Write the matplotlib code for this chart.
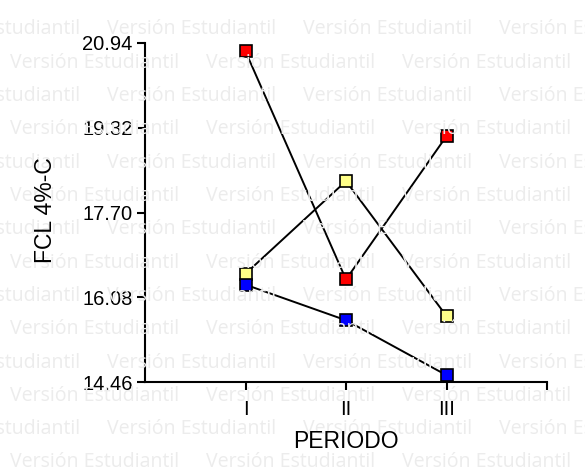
import matplotlib
matplotlib.use("Agg")
import matplotlib.pyplot as plt

categories = ["I", "II", "III"]
red_vals = [20.78, 16.42, 19.16]
yellow_vals = [16.53, 18.30, 15.72]
blue_vals = [16.32, 15.64, 14.59]
yticks = [14.46, 16.08, 17.70, 19.32, 20.94]
ylabel = "FCL 4%-C"
xlabel = "PERIODO"
watermark = "Versión Estudiantil"

W, H = 585, 470
fig = plt.figure(figsize=(W / 100, H / 100), dpi=100)
renderer = fig.canvas.get_renderer()

# fit watermark font size so one phrase is ~170 px wide
probe = fig.text(0, 0, watermark, fontsize=10, family="Open Sans")
w10 = probe.get_window_extent(renderer).width
probe.remove()
wm_size = 10 * 170 / w10

for r in range(15):
    y = 27 + r * 33.3
    x0 = 107 - 196 if r % 2 == 0 else 10
    for k in range(5):
        x = x0 + k * 196
        fig.text(x / W, 1 - y / H, watermark, fontsize=wm_size, color="#ececec",
                 family="Open Sans", va="center_baseline", ha="left", zorder=0)

ax = fig.add_axes([145 / W, 1 - 382 / H, (547 - 145) / W, (382 - 43) / H])
ax.patch.set_alpha(0)
xs = [1, 2, 3]
for vals, col in [(red_vals, "#ff0000"), (yellow_vals, "#ffff88"), (blue_vals, "#0000ff")]:
    ax.plot(xs, vals, color="black", lw=1.4, marker="s", markersize=8,
            markerfacecolor=col, markeredgecolor="black", markeredgewidth=1.2,
            clip_on=False, zorder=3)

ax.set_xlim(0, 4)
ax.set_ylim(yticks[0], yticks[-1])
ax.set_yticks(yticks)
ax.set_yticklabels([f"{v:.2f}" for v in yticks])
ax.set_xticks([1, 2, 3, 4])
ax.set_xticklabels(categories + [""])
for s in ["top", "right"]:
    ax.spines[s].set_visible(False)
for s in ["left", "bottom"]:
    ax.spines[s].set_linewidth(1.5)
ax.tick_params(axis="both", direction="out", length=6, width=1.5, labelsize=14.5)
ax.tick_params(axis="y", pad=3)
ax.tick_params(axis="x", pad=7)
for lbl in ax.get_xticklabels() + ax.get_yticklabels():
    lbl.set_family("Liberation Sans")

fig.text(45 / W, 1 - 210 / H, ylabel, rotation=90, fontsize=16.5, family="Liberation Sans",
         ha="center", va="center")
fig.text(346 / W, 1 - 441 / H, xlabel, fontsize=16.5, family="Liberation Sans",
         ha="center", va="center")

fig.savefig("out.png", dpi=100)
